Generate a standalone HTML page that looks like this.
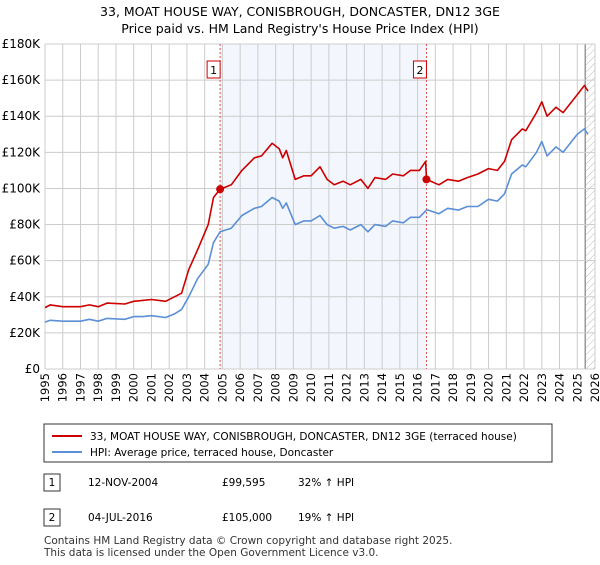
<!DOCTYPE html>
<html><head><meta charset="utf-8"><style>
body{margin:0;background:#fff;font-family:"Liberation Sans","DejaVu Sans",sans-serif;}
svg text{font-family:"DejaVu Sans","Liberation Sans",sans-serif;}
</style></head><body>
<svg id="c" width="600" height="560" xmlns="http://www.w3.org/2000/svg">
<defs><pattern id="hatch" width="5" height="5" patternUnits="userSpaceOnUse" patternTransform="rotate(45)"><line x1="0" y1="0" x2="0" y2="5" stroke="#bbb" stroke-width="1"/></pattern></defs>
<text x="300" y="16" text-anchor="middle" font-size="12.5">33, MOAT HOUSE WAY, CONISBROUGH, DONCASTER, DN12 3GE</text>
<text x="300" y="33" text-anchor="middle" font-size="12.5">Price paid vs. HM Land Registry's House Price Index (HPI)</text>
<g id="plot"></g>
<g>
<rect x="44" y="424" width="508" height="38" fill="#fff" stroke="#333"/>
<line x1="52" y1="436" x2="82" y2="436" stroke="#cc0000" stroke-width="2"/>
<text x="90" y="440" font-size="10.5">33, MOAT HOUSE WAY, CONISBROUGH, DONCASTER, DN12 3GE (terraced house)</text>
<line x1="52" y1="452" x2="82" y2="452" stroke="#5b8fd6" stroke-width="2"/>
<text x="90" y="456" font-size="10.5">HPI: Average price, terraced house, Doncaster</text>
</g>
<g font-size="10.5">
<rect x="44" y="474" width="16" height="17" fill="#fff" stroke="#333"/><text x="52" y="486" text-anchor="middle">1</text>
<text x="88" y="486">12-NOV-2004</text><text x="222" y="486">£99,595</text><text x="298" y="486">32% ↑ HPI</text>
<rect x="44" y="509" width="16" height="17" fill="#fff" stroke="#333"/><text x="52" y="521" text-anchor="middle">2</text>
<text x="88" y="521">04-JUL-2016</text><text x="222" y="521">£105,000</text><text x="298" y="521">19% ↑ HPI</text>
</g>
<text x="44" y="544" font-size="10.5" fill="#333">Contains HM Land Registry data © Crown copyright and database right 2025.</text>
<text x="44" y="556" font-size="10.5" fill="#333">This data is licensed under the Open Government Licence v3.0.</text>
</svg>
<script>
const yTicks=[0,20,40,60,80,100,120,140,160,180];
const xYears=[];for(let y=1995;y<=2026;y++)xYears.push(y);
const sales=[{label:"1",t:2004.87,v:99.595},{label:"2",t:2016.5,v:105}];
const redT=[1995,1995.3,1996,1997,1997.5,1998,1998.5,1999.5,2000,2000.5,2001,2001.8,2002.3,2002.7,2003.1,2003.6,2004.2,2004.5,2004.87,2005.5,2006.1,2006.8,2007.2,2007.8,2008.2,2008.4,2008.6,2009.1,2009.6,2010,2010.5,2010.9,2011.3,2011.8,2012.2,2012.8,2013.2,2013.6,2014.2,2014.6,2015.2,2015.6,2016.1,2016.45,2016.5,2017.2,2017.7,2018.3,2018.8,2019.4,2020,2020.5,2020.9,2021.3,2021.9,2022.1,2022.7,2023,2023.3,2023.8,2024.2,2024.6,2025,2025.4,2025.6];
const redV=[34,35.5,34.5,34.5,35.5,34.5,36.5,36,37.5,38,38.5,37.5,40,42,55,66,80,95,99.6,102,110,117,118,125,122,117,121,105,107,107,112,105,102,104,102,105,100,106,105,108,107,110,110,115,105,102,105,104,106,108,111,110,115,127,133,132,142,148,140,145,142,147,152,157,154];
const blueT=[1995,1995.3,1996,1997,1997.5,1998,1998.5,1999.5,2000,2000.5,2001,2001.8,2002.3,2002.7,2003.1,2003.6,2004.2,2004.5,2004.87,2005.5,2006.1,2006.8,2007.2,2007.8,2008.2,2008.4,2008.6,2009.1,2009.6,2010,2010.5,2010.9,2011.3,2011.8,2012.2,2012.8,2013.2,2013.6,2014.2,2014.6,2015.2,2015.6,2016.1,2016.5,2016.6,2017.2,2017.7,2018.3,2018.8,2019.4,2020,2020.5,2020.9,2021.3,2021.9,2022.1,2022.7,2023,2023.3,2023.8,2024.2,2024.6,2025,2025.4,2025.6];
const blueV=[26,27,26.5,26.5,27.5,26.5,28,27.5,29,29,29.5,28.5,30.5,33,40,50,58,70,76,78,85,89,90,95,93,89,92,80,82,82,85,80,78,79,77,80,76,80,79,82,81,84,84,88,88,86,89,88,90,90,94,93,97,108,113,112,120,126,118,123,120,125,130,133,130];
const L=45,R=595,T=44,B=369;
const xs=t=>L+(t-1995)/31*(R-L);
const ys=v=>B-v/180*(B-T);
const NS="http://www.w3.org/2000/svg";
const g=document.getElementById('plot');
function mk(tag,a){const e=document.createElementNS(NS,tag);for(const k in a)e.setAttribute(k,a[k]);g.appendChild(e);return e;}
let e;
e=mk('rect',{x:xs(sales[0].t),y:T,width:xs(sales[1].t)-xs(sales[0].t),height:B-T,fill:'#eef3fc',opacity:0.7});


e=mk('rect',{x:xs(2025.45),y:T,width:R-xs(2025.45),height:B-T,fill:'url(#hatch)'});


mk('line',{x1:xs(2025.45),y1:T,x2:xs(2025.45),y2:B,stroke:'#999','stroke-width':1.5});
xYears.forEach(y=>{
 mk('line',{x1:xs(y),y1:T,x2:xs(y),y2:B,stroke:'#ccc','stroke-width':1});
 const tx=mk('text',{x:0,y:0,'font-size':11.5,transform:`translate(${xs(y)+4},${B+4}) rotate(-90)`,'text-anchor':'end'});
 tx.textContent=y;
 
 
});
yTicks.forEach(v=>{
 mk('line',{x1:L,y1:ys(v),x2:R,y2:ys(v),stroke:'#ccc','stroke-width':1});
 const tx=mk('text',{x:L-5,y:ys(v)+4,'font-size':12,'text-anchor':'end'});
 tx.textContent=v===0?'£0':'£'+v+'K';
 
 
});
sales.forEach(s=>{
 e=mk('line',{x1:xs(s.t),y1:T,x2:xs(s.t),y2:B,stroke:'#e05050','stroke-width':1,'stroke-dasharray':'2,2'});
 
 
});
function path(T_,V_,c,n){
 const d=T_.map((t,i)=>(i?'L':'M')+xs(t).toFixed(1)+','+ys(V_[i]).toFixed(1)).join('');
 const p=mk('path',{d:d,fill:'none',stroke:c,'stroke-width':1.6,'stroke-linejoin':'round'});
 
 
}
path(blueT,blueV,'#5b8fd6','hpi-line');
path(redT,redV,'#cc0000','price-paid-line');
sales.forEach(s=>{
 e=mk('circle',{cx:xs(s.t),cy:ys(s.v),r:4,fill:'#cc0000'});
 
 
 e=mk('rect',{x:xs(s.t)-13,y:61,width:13,height:17,fill:'#fff',stroke:'#cc0000'});
 
 
 const tx=mk('text',{x:xs(s.t)-6.5,y:74,'font-size':11,'text-anchor':'middle'});
 tx.textContent=s.label;
 
 
});
</script>
</body></html>
